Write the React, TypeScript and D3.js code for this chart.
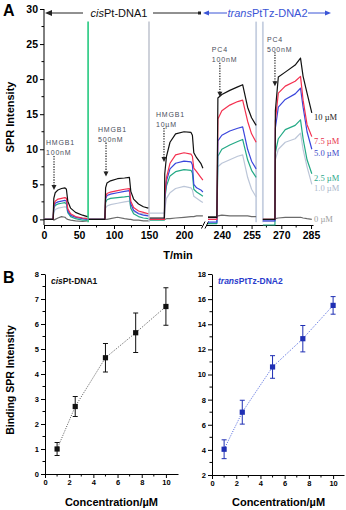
import React, { useEffect, useRef } from "react";
import * as d3 from "d3";

// ---- panel A: sensorgram key points, time in min ----
const inj1Time = [0, 13, 14, 16, 20, 25, 30, 32, 34, 38, 45, 55, 62];
const inj2Time = [64, 87, 88, 90, 95, 105, 115, 122, 124, 128, 135, 142, 149];
const inj3Time = [151, 172, 172.5, 175, 180, 188, 200, 210, 212, 214, 218, 224, 227];
const inj4Time = [233, 237.5, 238, 240, 244, 248, 250.5, 253, 255, 257.3];
const inj5Time = [260.7, 266.8, 267, 268.5, 272, 277, 279.7, 281, 283, 285.4];
const injTimes = [inj1Time, inj2Time, inj3Time, inj4Time, inj5Time];
const injSegment = [0, 0, 0, 1, 1];

// SPR intensity per injection window
const spr10 = [
  [0, 0, 3.0, 3.8, 4.2, 4.4, 4.5, 4.3, 2.6, 1.6, 1.0, 0.6, 0.4],
  [0, 0, 4.5, 5.2, 5.5, 5.8, 5.9, 6.0, 4.0, 2.9, 2.2, 1.8, 1.6],
  [0.2, 0.2, 6.5, 9.0, 11.0, 12.2, 12.5, 12.4, 12.0, 9.5, 8.8, 8.0, 7.3],
  [0.3, 0.3, 17.3, 17.8, 18.4, 18.9, 19.2, 16.0, 14.5, 13.4],
  [0, 0, 15.5, 20.3, 21.0, 22.0, 23.0, 20.4, 18.0, 15.2],
];
const spr75 = [
  [0, 0, 2.0, 2.6, 2.9, 3.0, 3.1, 3.0, 1.5, 0.8, 0.4, 0.2, 0.1],
  [0, 0, 3.2, 3.7, 3.9, 4.1, 4.3, 4.4, 2.6, 1.7, 1.2, 1.0, 0.8],
  [0, 0, 3.5, 6.0, 8.0, 9.2, 9.5, 9.3, 9.0, 7.3, 6.8, 6.0, 5.6],
  [0, 0, 14.3, 15.5, 16.3, 16.8, 17.0, 14.0, 12.2, 11.0],
  [0, 0, 14.0, 18.0, 19.0, 19.7, 20.4, 17.0, 13.5, 11.8],
];
const spr50 = [
  [0, 0, 1.7, 2.3, 2.5, 2.6, 2.7, 2.6, 1.2, 0.6, 0.3, 0.1, 0.0],
  [0, 0, 2.9, 3.4, 3.6, 3.8, 4.0, 4.1, 2.2, 1.3, 0.8, 0.6, 0.5],
  [0, 0, 3.0, 5.5, 7.2, 8.0, 8.3, 8.2, 7.8, 5.0, 4.5, 4.2, 3.9],
  [-0.4, -0.4, 11.2, 12.0, 12.6, 13.0, 13.2, 10.0, 8.3, 7.2],
  [-0.2, -0.2, 13.0, 16.0, 17.1, 17.9, 18.7, 16.0, 12.5, 10.0],
];
const spr25 = [
  [0, 0, 1.5, 2.0, 2.2, 2.3, 2.4, 2.2, 1.0, 0.4, 0.1, -0.1, -0.1],
  [0, 0, 2.4, 2.8, 3.0, 3.1, 3.2, 3.3, 1.6, 0.8, 0.4, 0.2, 0.1],
  [-0.1, -0.1, 2.8, 4.8, 6.2, 6.8, 7.1, 7.0, 6.6, 4.3, 3.9, 3.5, 3.3],
  [-0.6, -0.6, 9.0, 10.0, 10.6, 11.1, 11.4, 8.5, 7.0, 6.0],
  [-0.8, -0.8, 9.5, 11.5, 12.8, 13.4, 14.2, 11.5, 8.5, 6.5],
];
const spr1 = [
  [0, 0, 1.0, 1.4, 1.6, 1.7, 1.8, 1.7, 0.9, 0.5, 0.3, 0.2, 0.2],
  [0, 0, 1.6, 1.9, 2.1, 2.3, 2.5, 2.6, 1.6, 1.1, 0.9, 0.8, 0.8],
  [0.9, 0.9, 1.5, 3.0, 3.8, 4.4, 4.7, 4.5, 4.2, 3.3, 3.0, 2.6, 2.4],
  [0.2, 0.2, 7.5, 8.0, 8.5, 9.0, 9.2, 6.0, 4.3, 3.2],
  [-0.3, -0.3, 8.5, 10.0, 11.0, 11.5, 12.3, 10.0, 7.5, 5.0],
];
const spr0 = [
  [0, 0, -0.1, 0, 0.2, 0.4, 0.3, 0.1, 0, -0.1, -0.2, -0.3, -0.2],
  [0, 0, 0, 0, 0.1, 0.3, 0.1, 0, 0, -0.1, -0.1, -0.2, -0.2],
  [0, 0, 0, 0.1, 0.1, 0.2, 0.3, 0.4, 0.4, 0.4, 0.5, 0.5, 0.5],
  [0.4, 0.4, 0.5, 0.6, 0.5, 0.5, 0.5, 0.5, 0.4, 0.4],
  [0, 0, 0.1, 0.2, 0.3, 0.3, 0.3, 0.2, 0.1, 0],
];
const concSeries = [spr10, spr75, spr50, spr25, spr1, spr0];
const concLabels = ["10 µM", "7.5 µM", "5.0 µM", "2.5 µM", "1.0 µM", "0 µM"];
const concColors = ["#111111", "#f4304f", "#3a46dc", "#23a985", "#bcc6d8", "#6b6b6b"];
const concLabelColors = ["#222222", "#e8304c", "#3c48c8", "#2aa88a", "#aab6ca", "#a0a0a0"];

// regeneration spikes
const regenTimes = [63, 150, 257.3, 260.7];
const regenSegment = [0, 0, 1, 1];
const regenColors = ["#3ccf8e", "#c9cdd6", "#c6cfe0", "#c6cfe0"];

// injection annotations
const annoLines = [["HMGB1", "100nM"], ["HMGB1", "500nM"], ["HMGB1", "10µM"], ["PC4", "100nM"], ["PC4", "500nM"]];
const annoTime = [14.3, 88.6, 171.4, 239, 266.8];
const annoTip = [4.2, 6.1, 8.2, 17.5, 19.0];
const annoSegment = [0, 0, 0, 1, 1];

const yTicksA = [0, 5, 10, 15, 20, 25, 30];
const xTicksCis = [0, 50, 100, 150, 200];
const xTicksTrans = [240, 255, 270, 285];

// ---- panel B ----
const concB = [1, 2.5, 5, 7.5, 10];
const cisBinding = [1.0, 2.7, 4.65, 5.65, 6.7];
const cisErr = [0.26, 0.4, 0.57, 0.79, 0.75];
const transBinding = [4.05, 7.0, 10.6, 12.85, 15.5];
const transErr = [0.75, 0.95, 0.9, 1.05, 0.7];
const xTicksB = [0, 2, 4, 6, 8, 10];

const FONT = "'Liberation Sans', Arial, sans-serif";

const styleAxis = (g, size) => {
  g.attr("font-family", FONT).attr("font-size", size).attr("font-weight", "bold");
  g.selectAll("path.domain").attr("stroke", "#000").attr("stroke-width", 1);
  g.selectAll(".tick line").attr("stroke", "#000");
  g.selectAll(".tick text").attr("fill", "#000");
};

export default function App() {
  const svgRef = useRef(null);

  useEffect(() => {
    const svg = d3.select(svgRef.current);
    svg.selectAll("*").remove();

    // ===== Panel A =====
    const yA = d3.scaleLinear().domain([-0.8, 30]).range([225, 9]);
    const xA1 = d3.scaleLinear().domain([0, 225]).range([44, 201.5]);
    const xA2 = d3.scaleLinear().domain([232, 286]).range([206, 313]);
    const xSeg = [xA1, xA2];
    const baseY = yA.range()[0];

    svg.append("text").attr("x", 3).attr("y", 16).text("A")
      .attr("font-family", FONT).attr("font-size", 16).attr("font-weight", "bold");

    // y axis
    const gy = svg.append("g").attr("transform", `translate(${xA1.range()[0]},0)`)
      .call(d3.axisLeft(yA).tickValues(yTicksA).tickSize(4).tickSizeOuter(0).tickPadding(2));
    styleAxis(gy, 10.5);
    gy.select("path.domain").attr("d", `M0,${baseY}V${yA(30)}`);
    d3.range(2.5, 30, 5).forEach((v) => {
      gy.append("line").attr("x1", -2.5).attr("x2", 0).attr("y1", yA(v)).attr("y2", yA(v)).attr("stroke", "#000");
    });

    // x axes (broken)
    const gx1 = svg.append("g").attr("transform", `translate(0,${baseY})`)
      .call(d3.axisBottom(xA1).tickValues(xTicksCis).tickSize(4).tickSizeOuter(0).tickPadding(3));
    styleAxis(gx1, 10.5);
    [25, 75, 125, 175].forEach((v) => {
      gx1.append("line").attr("x1", xA1(v)).attr("x2", xA1(v)).attr("y1", 0).attr("y2", 2.5).attr("stroke", "#000");
    });
    const gx2 = svg.append("g").attr("transform", `translate(0,${baseY})`)
      .call(d3.axisBottom(xA2).tickValues(xTicksTrans).tickSize(4).tickSizeOuter(0).tickPadding(3));
    styleAxis(gx2, 10.5);
    [247.5, 262.5, 277.5].forEach((v) => {
      gx2.append("line").attr("x1", xA2(v)).attr("x2", xA2(v)).attr("y1", 0).attr("y2", 2.5).attr("stroke", "#000");
    });
    // break marks
    [201.5, 205].forEach((bx) => {
      svg.append("line").attr("x1", bx).attr("x2", bx + 3.5).attr("y1", baseY + 3.5).attr("y2", baseY - 3.5)
        .attr("stroke", "#000").attr("stroke-width", 1);
    });

    svg.append("text").attr("transform", `translate(14,${(yA(30) + baseY) / 2}) rotate(-90)`)
      .attr("text-anchor", "middle").text("SPR Intensity")
      .attr("font-family", FONT).attr("font-size", 11).attr("font-weight", "bold");
    svg.append("text").attr("x", 178).attr("y", 259).attr("text-anchor", "middle").text("T/min")
      .attr("font-family", FONT).attr("font-size", 11).attr("font-weight", "bold");

    // regeneration lines
    regenTimes.forEach((t, i) => {
      const xs = xSeg[regenSegment[i]];
      svg.append("line").attr("x1", xs(t)).attr("x2", xs(t)).attr("y1", yA(28.2)).attr("y2", yA(-0.4))
        .attr("stroke", regenColors[i]).attr("stroke-width", 1.8);
    });

    // sensorgram traces
    const traces = svg.append("g");
    for (let c = concSeries.length - 1; c >= 0; c--) {
      injTimes.forEach((times, j) => {
        const xs = xSeg[injSegment[j]];
        const pts = times.map((t, k) => [t, concSeries[c][j][k]]);
        const line = d3.line().x((d) => xs(d[0])).y((d) => yA(d[1]));
        traces.append("path").attr("d", line(pts)).attr("fill", "none")
          .attr("stroke", concColors[c]).attr("stroke-width", 1.2).attr("stroke-linejoin", "round");
      });
    }

    // end labels
    concLabels.forEach((lab, c) => {
      const last = concSeries[c][4][concSeries[c][4].length - 1];
      svg.append("text").attr("x", 314).attr("y", yA(last) + (last > 1 ? 4 : 0)).attr("dy", "0.35em").text(lab)
        .attr("font-family", "'Liberation Serif', 'Times New Roman', serif").attr("font-size", 8.5)
        .attr("fill", concLabelColors[c]);
    });

    // injection annotations
    annoLines.forEach((lines, i) => {
      const xs = xSeg[annoSegment[i]];
      const ax = xs(annoTime[i]);
      const tip = yA(annoTip[i]);
      lines.forEach((l, k) => {
        svg.append("text").attr("x", ax - 8).attr("y", tip - 47 + k * 10).attr("dy", "0.35em").text(l)
          .attr("font-family", FONT).attr("font-size", 7).attr("letter-spacing", 0.8).attr("fill", "#4a4d5c");
      });
      svg.append("line").attr("x1", ax).attr("x2", ax).attr("y1", tip - 34).attr("y2", tip - 4)
        .attr("stroke", "#222").attr("stroke-width", 1.2).attr("stroke-dasharray", "1.3,1.3");
      svg.append("path").attr("d", `M${ax - 2.5},${tip - 5}L${ax + 2.5},${tip - 5}L${ax},${tip}Z`).attr("fill", "#222");
    });

    // header arrows
    const hy = 13;
    const blue = "#3b55d6";
    svg.append("path").attr("d", `M45,${hy}L52,${hy - 3}L52,${hy + 3}Z`).attr("fill", "#222");
    svg.append("line").attr("x1", 50).attr("x2", 83).attr("y1", hy).attr("y2", hy).attr("stroke", "#222");
    svg.append("line").attr("x1", 153).attr("x2", 199).attr("y1", hy).attr("y2", hy).attr("stroke", "#222");
    svg.append("rect").attr("x", 198).attr("y", hy - 1.5).attr("width", 3).attr("height", 3).attr("fill", "#222");
    const t1 = svg.append("text").attr("x", 119).attr("y", hy + 4).attr("text-anchor", "middle")
      .attr("font-family", FONT).attr("font-size", 11).attr("fill", "#111");
    t1.append("tspan").attr("font-style", "italic").text("cis");
    t1.append("tspan").text("Pt-DNA1");
    svg.append("path").attr("d", `M203,${hy}L209,${hy - 2.5}L209,${hy + 2.5}Z`).attr("fill", blue);
    svg.append("line").attr("x1", 207).attr("x2", 227).attr("y1", hy).attr("y2", hy).attr("stroke", blue);
    svg.append("line").attr("x1", 308).attr("x2", 326).attr("y1", hy).attr("y2", hy).attr("stroke", blue);
    svg.append("path").attr("d", `M331,${hy}L325,${hy - 2.5}L325,${hy + 2.5}Z`).attr("fill", blue);
    const t2 = svg.append("text").attr("x", 267.5).attr("y", hy + 4).attr("text-anchor", "middle")
      .attr("font-family", FONT).attr("font-size", 11).attr("fill", blue);
    t2.append("tspan").attr("font-style", "italic").text("trans");
    t2.append("tspan").text("PtTz-DNA2");

    // ===== Panel B =====
    svg.append("text").attr("x", 3).attr("y", 283).text("B")
      .attr("font-family", FONT).attr("font-size", 16).attr("font-weight", "bold");

    const drawBinding = (xs, ys, values, errs, color, lineColor, yMajor, yMinor, italic, rest, titleColor) => {
      const g = svg.append("g");
      const x0 = xs.range()[0];
      const y0 = ys.range()[0];
      const gya = g.append("g").attr("transform", `translate(${x0},0)`)
        .call(d3.axisLeft(ys).tickValues(yMajor).tickSize(4).tickSizeOuter(0).tickPadding(2));
      styleAxis(gya, 7.5);
      yMinor.forEach((v) => {
        gya.append("line").attr("x1", -2.5).attr("x2", 0).attr("y1", ys(v)).attr("y2", ys(v)).attr("stroke", "#000");
      });
      const gxa = g.append("g").attr("transform", `translate(0,${y0})`)
        .call(d3.axisBottom(xs).tickValues(xTicksB).tickSize(4).tickSizeOuter(0).tickPadding(2));
      styleAxis(gxa, 7.5);
      [1, 3, 5, 7, 9].forEach((v) => {
        gxa.append("line").attr("x1", xs(v)).attr("x2", xs(v)).attr("y1", 0).attr("y2", 2.5).attr("stroke", "#000");
      });

      const pts = concB.map((c, i) => [c, values[i]]);
      const line = d3.line().x((d) => xs(d[0])).y((d) => ys(d[1]));
      g.append("path").attr("d", line(pts)).attr("fill", "none").attr("stroke", lineColor)
        .attr("stroke-width", 1).attr("stroke-dasharray", "1,1.4");

      concB.forEach((c, i) => {
        const cx = xs(c);
        const top = ys(values[i] + errs[i]);
        const bot = ys(values[i] - errs[i]);
        g.append("line").attr("x1", cx).attr("x2", cx).attr("y1", top).attr("y2", bot).attr("stroke", color).attr("stroke-width", 1);
        [top, bot].forEach((yy) => {
          g.append("line").attr("x1", cx - 2.5).attr("x2", cx + 2.5).attr("y1", yy).attr("y2", yy)
            .attr("stroke", color).attr("stroke-width", 1);
        });
        g.append("rect").attr("x", cx - 2.6).attr("y", ys(values[i]) - 2.6).attr("width", 5.2).attr("height", 5.2).attr("fill", color);
      });

      const tt = g.append("text").attr("x", x0 + 6).attr("y", 284).attr("font-family", FONT)
        .attr("font-size", 8.5).attr("font-weight", "bold").attr("fill", titleColor);
      tt.append("tspan").attr("font-style", "italic").text(italic);
      tt.append("tspan").text(rest);

      g.append("text").attr("x", (xs(0) + xs(10)) / 2 + 6).attr("y", 506).attr("text-anchor", "middle")
        .text("Concentration/µM").attr("font-family", FONT).attr("font-size", 11).attr("font-weight", "bold");
    };

    const xB1 = d3.scaleLinear().domain([0, 11]).range([45, 178]);
    const yB1 = d3.scaleLinear().domain([0, 8]).range([474, 274]);
    drawBinding(xB1, yB1, cisBinding, cisErr, "#111", "#555", d3.range(0, 9, 1), d3.range(0.5, 8, 1),
      "cis", "Pt-DNA1", "#111");

    const xB2 = d3.scaleLinear().domain([0, 10.9]).range([212, 344]);
    const yB2 = d3.scaleLinear().domain([2, 18]).range([475, 274]);
    drawBinding(xB2, yB2, transBinding, transErr, "#1f2fb4", "#4a62dd", d3.range(2, 19, 2), d3.range(3, 18, 2),
      "trans", "PtTz-DNA2", "#2a3ccc");

    svg.append("text").attr("transform", `translate(14,${(yB1(0) + yB1(8)) / 2 + 6}) rotate(-90)`)
      .attr("text-anchor", "middle").text("Binding SPR Intensity")
      .attr("font-family", FONT).attr("font-size", 10.5).attr("font-weight", "bold");
  }, []);

  return (
    <svg ref={svgRef} width={346} height={510}
      style={{ position: "absolute", left: 0, top: 0, background: "#fff" }} />
  );
}
